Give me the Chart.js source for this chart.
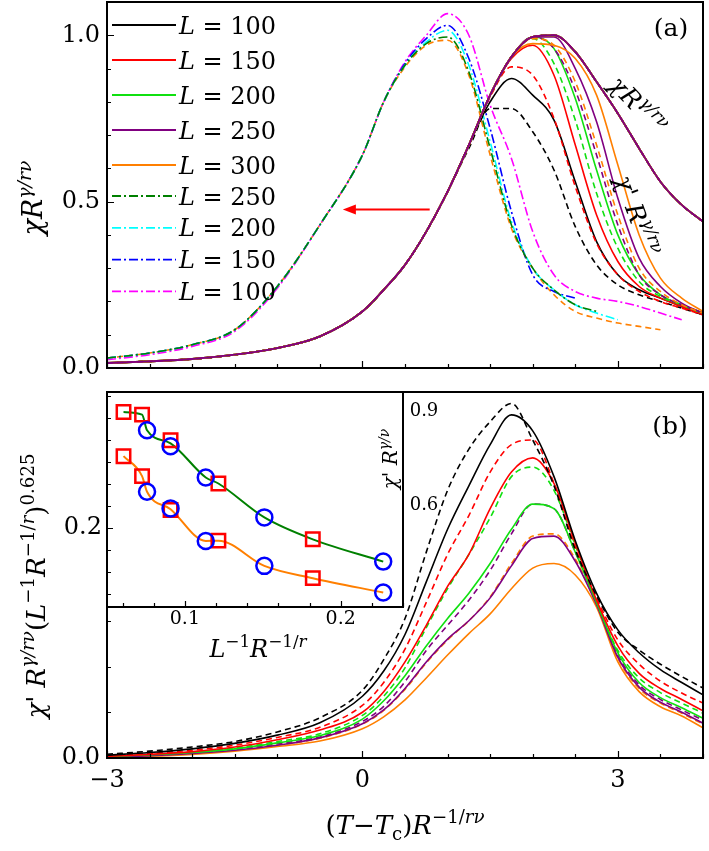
<!DOCTYPE html>
<html><head><meta charset="utf-8">
<script src="https://cdn.jsdelivr.net/npm/chart.js@4.4.1/dist/chart.umd.min.js"></script>
<style>
html,body{margin:0;padding:0;background:#fff;}
#wrap{position:relative;width:709px;height:851px;overflow:hidden;background:#fff;}
canvas{position:absolute;}
</style></head><body>
<div id="wrap">
<canvas id="ca" width="709" height="380" style="left:0;top:0"></canvas>
<canvas id="cb" width="709" height="479" style="left:0;top:372px"></canvas>
<canvas id="cc" width="460" height="300" style="left:0;top:372px"></canvas>
</div>
<script>
// ---------------- DATA ----------------
const xGrid = [-3,-2.5,-2,-1.5,-1,-0.5,0,0.25,0.5,0.75,1,1.25,1.5,1.75,2,2.25,2.5,2.75,3,3.25,3.5,3.75,4];
const sizesL = [100,150,200,250,300];

// panel (a): chi R^{gamma/r nu} (all sizes collapse)
const chiCollapse = [0.015,0.02,0.027,0.04,0.06,0.095,0.17,0.235,0.31,0.41,0.53,0.67,0.82,0.935,0.995,1.0,0.95,0.86,0.765,0.66,0.56,0.49,0.44];
// panel (a): chi' R^{gamma/r nu}, solid and dashed sets
const chiPA_L100  = [0.015,0.02,0.027,0.04,0.06,0.095,0.17,0.235,0.31,0.41,0.53,0.67,0.80,0.87,0.82,0.745,0.56,0.38,0.28,0.235,0.21,0.185,0.16];
const chiPA_L100d = [0.015,0.02,0.027,0.04,0.06,0.095,0.17,0.235,0.31,0.41,0.53,0.66,0.78,0.78,0.71,0.595,0.425,0.31,0.25,0.22,0.2,0.18,0.16];
const chiPA_L150  = [0.015,0.02,0.027,0.04,0.06,0.095,0.17,0.235,0.31,0.41,0.53,0.67,0.82,0.93,0.97,0.88,0.67,0.46,0.32,0.245,0.21,0.185,0.16];
const chiPA_L150d = [0.015,0.02,0.027,0.04,0.06,0.095,0.17,0.235,0.31,0.41,0.53,0.67,0.815,0.905,0.88,0.75,0.545,0.375,0.28,0.23,0.2,0.18,0.16];
const chiPA_L200  = [0.015,0.02,0.027,0.04,0.06,0.095,0.17,0.235,0.31,0.41,0.53,0.67,0.82,0.935,0.995,0.96,0.81,0.595,0.40,0.28,0.22,0.19,0.165];
const chiPA_L200d = [0.015,0.02,0.027,0.04,0.06,0.095,0.17,0.235,0.31,0.41,0.53,0.67,0.82,0.935,0.99,0.915,0.745,0.525,0.36,0.26,0.215,0.19,0.165];
const chiPA_L250  = [0.015,0.02,0.027,0.04,0.06,0.095,0.17,0.235,0.31,0.41,0.53,0.67,0.82,0.935,0.995,0.995,0.90,0.74,0.51,0.33,0.245,0.195,0.165];
const chiPA_L250d = [0.015,0.02,0.027,0.04,0.06,0.095,0.17,0.235,0.31,0.41,0.53,0.67,0.82,0.935,0.995,0.96,0.835,0.64,0.43,0.28,0.22,0.19,0.165];
const chiPA_L300  = [0.015,0.02,0.027,0.04,0.06,0.095,0.17,0.235,0.31,0.41,0.53,0.67,0.82,0.935,0.975,0.97,0.93,0.82,0.61,0.40,0.27,0.21,0.17];
const chiPA_L300d = [0.015,0.02,0.027,0.04,0.06,0.095,0.17,0.235,0.31,0.41,0.53,0.67,0.82,0.935,0.99,0.97,0.86,0.67,0.46,0.30,0.23,0.19,0.165];
// panel (a): shifted (dash-dot) curves
const shiftL250 = [0.03,0.045,0.07,0.115,0.245,0.43,0.64,0.80,0.91,0.975,0.995,0.89,0.66,0.43,0.30,0.235,0.19,0.17,null,null,null,null,null];
const shiftL200 = [0.03,0.045,0.07,0.115,0.245,0.43,0.64,0.80,0.91,0.98,1.015,0.91,0.68,0.44,0.30,0.235,0.19,0.165,0.145,null,null,null,null];
const shiftL150 = [0.03,0.045,0.07,0.115,0.245,0.43,0.64,0.80,0.915,0.99,1.03,0.93,0.72,0.47,0.28,0.23,0.21,null,null,null,null,null,null];
const shiftL100 = [0.025,0.04,0.065,0.11,0.24,0.43,0.64,0.80,0.92,1.0,1.065,1.0,0.79,0.63,0.41,0.28,0.23,0.21,0.20,0.185,0.165,0.145,null];
const shiftL300 = [0.03,0.045,0.07,0.115,0.245,0.43,0.64,0.80,0.905,0.97,0.985,0.88,0.64,0.42,0.30,0.22,0.17,0.15,0.135,0.125,0.115,null,null];

// panel (b): chi' R^{gamma/r nu} (L^-1 R^-1/r)^0.625
const chiPB_L100d = [0.008,0.015,0.024,0.036,0.057,0.088,0.148,0.215,0.305,0.45,0.585,0.675,0.735,0.775,0.695,0.595,0.455,0.355,0.275,0.236,0.205,0.178,0.153];
const chiPB_L100  = [0.006,0.012,0.02,0.032,0.05,0.077,0.135,0.19,0.27,0.385,0.50,0.595,0.685,0.75,0.715,0.615,0.475,0.36,0.28,0.23,0.193,0.165,0.138];
const chiPB_L150d = [0.005,0.01,0.017,0.028,0.045,0.067,0.115,0.165,0.238,0.34,0.445,0.53,0.625,0.685,0.695,0.60,0.46,0.35,0.258,0.205,0.168,0.142,0.12];
const chiPB_L150  = [0.004,0.008,0.014,0.024,0.04,0.061,0.1,0.145,0.21,0.29,0.375,0.445,0.545,0.625,0.656,0.60,0.47,0.345,0.245,0.185,0.152,0.128,0.103];
const chiPB_L200d = [0.004,0.008,0.013,0.022,0.036,0.053,0.093,0.135,0.197,0.285,0.37,0.445,0.525,0.615,0.636,0.585,0.465,0.34,0.235,0.175,0.143,0.12,0.098];
const chiPB_L200  = [0.003,0.007,0.012,0.02,0.033,0.049,0.085,0.125,0.18,0.245,0.305,0.36,0.425,0.50,0.555,0.545,0.45,0.34,0.23,0.165,0.132,0.11,0.087];
const chiPB_L250d = [0.003,0.006,0.011,0.019,0.031,0.046,0.08,0.113,0.167,0.235,0.29,0.345,0.41,0.49,0.555,0.545,0.45,0.34,0.225,0.16,0.128,0.105,0.083];
const chiPB_L250  = [0.002,0.005,0.01,0.017,0.028,0.044,0.075,0.105,0.152,0.21,0.26,0.30,0.35,0.42,0.48,0.485,0.43,0.335,0.22,0.155,0.122,0.1,0.076];
const chiPB_L300d = [0.002,0.005,0.01,0.017,0.028,0.043,0.074,0.104,0.15,0.208,0.258,0.30,0.352,0.425,0.485,0.49,0.435,0.335,0.218,0.152,0.12,0.098,0.074];
const chiPB_L300  = [0.002,0.004,0.008,0.015,0.025,0.037,0.064,0.09,0.127,0.175,0.225,0.272,0.315,0.37,0.415,0.425,0.40,0.33,0.21,0.145,0.112,0.092,0.066];

// inset: x = L^-1 R^-1/r
const insetSqX   = [0.0606,0.0725,0.0908,0.1215,0.1821];
const insetSqTop = [0.3057,0.3034,0.280,0.2406,0.1897];
const insetSqBot = [0.2655,0.2473,0.2164,0.1885,0.1543];
const insetCirX   = [0.0757,0.0908,0.1134,0.151,0.2273];
const insetCirTop = [0.2891,0.2745,0.2461,0.2097,0.1694];
const insetCirBot = [0.233,0.2179,0.1882,0.1655,0.1412];

// tick labels
const xTickLabels = {'-3':'−3','0':'0','3':'3'};
const yTickLabelsA = ['0.0','0.5','1.0'];
const yTickLabelsB = ['0.0'];
const insetXTickLabels = ['0.1','0.2'];
const insetYTickLabels = ['0.2'];
const insetRightLabels = ['0.9','0.6'];
// arrow (data coordinates of panel a)
const arrowFromX = 0.79, arrowToX = -0.23, arrowY = 0.476;

// ---------------- HELPERS ----------------
const SERIF = '"DejaVu Serif", "Liberation Serif", serif';
const C = {black:'#000000', red:'#ff0000', green:'#10e010', purple:'#800080', orange:'#ff7f00',
           dgreen:'#008000', cyan:'#00ffff', blue:'#0000ff', magenta:'#ff00ff'};
const DASH = [6,4], DASHDOT = [9,3,2,3];
function fnt(p,size){ const s = p.lv ? size*0.7 : size; return (p.it?'italic ':'') + s.toFixed(1)+'px '+SERIF; }
function richWidth(ctx,parts,size){ let w=0; for(const p of parts){ ctx.font=fnt(p,size); w+=ctx.measureText(p.t).width; } return w; }
function drawRich(ctx,parts,x,y,size,align,angle,vmid){
  ctx.save(); ctx.translate(x,y); if(angle) ctx.rotate(angle);
  ctx.fillStyle='#000'; ctx.textBaseline='alphabetic'; ctx.textAlign='left';
  const w = richWidth(ctx,parts,size);
  let cx = align==='center' ? -w/2 : (align==='right' ? -w : 0);
  const base = vmid ? size*0.3 : 0;
  for(const p of parts){
    ctx.font=fnt(p,size);
    const dy = p.lv===1 ? -size*0.42 : (p.lv===-1 ? size*0.22 : 0);
    ctx.fillText(p.t,cx,base+dy); cx+=ctx.measureText(p.t).width;
  }
  ctx.restore();
}
function pts(xs,ys){ return ys.map((v,i)=>({x:xs[i],y:v})); }
function line(label,data,color,dash,width){
  return {label, data, showLine:true, borderColor:color, borderDash:dash||[], borderWidth:width||1.6,
          pointRadius:0, fill:false, cubicInterpolationMode:'monotone', spanGaps:false};
}
function tickVals(min,max,step){ const out=[]; const s=Math.ceil((min-1e-9)/step), e=Math.floor((max+1e-9)/step); for(let i=s;i<=e;i++) out.push(+(i*step).toFixed(6)); return out; }
function near(a,b){ return Math.abs(a-b)<1e-6; }
function decor(spec){
  return { id:'decor',
    beforeDraw(chart){ if(spec.fill){ const a=chart.chartArea; const c=chart.ctx; c.save(); c.fillStyle='#fff'; c.fillRect(a.left,a.top,a.right-a.left,a.bottom-a.top); c.restore(); } },
    afterDraw(chart){
      const ctx=chart.ctx, a=chart.chartArea, xs=chart.scales.x, ys=chart.scales.y;
      ctx.save(); ctx.strokeStyle='#000'; ctx.lineWidth=1.2; ctx.setLineDash([]);
      ctx.beginPath();
      for(const v of tickVals(xs.min,xs.max,spec.xStep)){
        const px=Math.round(xs.getPixelForValue(v))+0.5; const len = spec.xMajor.some(m=>near(m,v)) ? spec.majLen : spec.minLen;
        ctx.moveTo(px,a.bottom); ctx.lineTo(px,a.bottom-len);
      }
      for(const v of tickVals(ys.min,ys.max,spec.yStep)){
        const py=Math.round(ys.getPixelForValue(v))+0.5; const len = spec.yMajor.some(m=>near(m,v)) ? spec.majLen : spec.minLen;
        ctx.moveTo(a.left,py); ctx.lineTo(a.left+len,py);
      }
      ctx.stroke();
      ctx.lineWidth=2; ctx.strokeRect(a.left,a.top,a.right-a.left,a.bottom-a.top);
      ctx.restore();
      if(spec.extra) spec.extra(chart,ctx);
    }};
}
function baseOptions(o){
  return {
    responsive:false, animation:false, devicePixelRatio:1,
    layout:{padding:o.pad},
    plugins:{legend:{display:false}, tooltip:{enabled:false}},
    scales:{
      x:{type:'linear', min:o.xmin, max:o.xmax, grid:{display:false, drawTicks:false}, border:{display:false},
         ticks:{display:o.xTicks, stepSize:o.xStep, autoSkip:false, maxRotation:0, minRotation:0, padding:o.xPad||6,
                color:'#000', font:{family:SERIF, size:o.xFont||24}, callback:o.xCb},
         afterFit:(s)=>{ s.height=o.xH; s.paddingLeft=0; s.paddingRight=0; }},
      y:{type:'linear', min:o.ymin, max:o.ymax, grid:{display:false, drawTicks:false}, border:{display:false},
         ticks:{display:true, stepSize:o.yStep, autoSkip:false, padding:o.yPad||7,
                color:'#000', font:{family:SERIF, size:o.yFont||24}, callback:o.yCb},
         afterFit:(s)=>{ s.width=o.yW; s.paddingTop=0; s.paddingBottom=0; }}
    }
  };
}
const mainXCb = (v)=>{ const k=String(Math.round(v*2)/2); return xTickLabels[k]!==undefined ? xTickLabels[k] : ''; };

// ---------------- PANEL (a) ----------------
const colorsL = {100:C.black,150:C.red,200:C.green,250:C.purple,300:C.orange};
const chiPA = {100:[chiPA_L100,chiPA_L100d],150:[chiPA_L150,chiPA_L150d],200:[chiPA_L200,chiPA_L200d],250:[chiPA_L250,chiPA_L250d],300:[chiPA_L300,chiPA_L300d]};
const dsA = [];
[250,300,200,150,100].forEach(L=>{
  dsA.push(line('chi L='+L, pts(xGrid,chiCollapse), colorsL[L], null, 1.8));
  dsA.push(line('chi L='+L+' dashed', pts(xGrid,chiCollapse), colorsL[L], DASH, 1.6));
});
[300,250,200,150,100].forEach(L=>{
  dsA.push(line("chi' L="+L, pts(xGrid,chiPA[L][0]), colorsL[L], null, 1.6));
  dsA.push(line("chi' L="+L+' dashed', pts(xGrid,chiPA[L][1]), colorsL[L], DASH, 1.6));
});
dsA.push(line('shift L=250', pts(xGrid,shiftL250), C.dgreen, DASHDOT, 1.6));
dsA.push(line('shift L=200', pts(xGrid,shiftL200), C.cyan, DASHDOT, 1.6));
dsA.push(line('shift L=150', pts(xGrid,shiftL150), C.blue, DASHDOT, 1.6));
dsA.push(line('shift L=100', pts(xGrid,shiftL100), C.magenta, DASHDOT, 1.6));
dsA.push(line('shift L=300', pts(xGrid,shiftL300), C.orange, DASH, 1.6));

const legendItems = [
  {L:100,c:C.black,d:[]},{L:150,c:C.red,d:[]},{L:200,c:C.green,d:[]},{L:250,c:C.purple,d:[]},{L:300,c:C.orange,d:[]},
  {L:250,c:C.dgreen,d:DASHDOT},{L:200,c:C.cyan,d:DASHDOT},{L:150,c:C.blue,d:DASHDOT},{L:100,c:C.magenta,d:DASHDOT}
];
function extraA(chart,ctx){
  legendItems.forEach((it,i)=>{
    const y = i<5 ? 25+i*35 : 196+(i-5)*31.8;
    ctx.save(); ctx.strokeStyle=it.c; ctx.lineWidth=1.8; ctx.setLineDash(it.d);
    ctx.beginPath(); ctx.moveTo(112,y); ctx.lineTo(176,y); ctx.stroke(); ctx.restore();
    drawRich(ctx,[{t:'L',it:1},{t:' = '+it.L}],179,y+8.5,24,'left');
  });
  ctx.save(); ctx.font='25px '+SERIF; ctx.fillStyle='#000'; ctx.textAlign='center'; ctx.textBaseline='middle'; ctx.fillText('(a)',671,29); ctx.restore();
  drawRich(ctx,[{t:'χ',it:1},{t:'R',it:1},{t:'γ/rν',it:1,lv:1}],637,106,25,'center',0.82,true);
  drawRich(ctx,[{t:'χ',it:1},{t:"' "},{t:'R',it:1},{t:'γ/rν',it:1,lv:1}],636,216,25,'center',1.22,true);
  drawRich(ctx,[{t:'χ',it:1},{t:'R',it:1},{t:'γ/rν',it:1,lv:1}],42,198,27,'center',-Math.PI/2);
  const xs=chart.scales.x, ys=chart.scales.y;
  const x1=xs.getPixelForValue(arrowFromX), x2=xs.getPixelForValue(arrowToX), y=ys.getPixelForValue(arrowY);
  ctx.save(); ctx.strokeStyle=C.red; ctx.fillStyle=C.red; ctx.lineWidth=2; ctx.setLineDash([]);
  ctx.beginPath(); ctx.moveTo(x1,y); ctx.lineTo(x2+10,y); ctx.stroke();
  ctx.beginPath(); ctx.moveTo(x2,y); ctx.lineTo(x2+13,y-5); ctx.lineTo(x2+13,y+5); ctx.closePath(); ctx.fill();
  ctx.restore();
}
new Chart(document.getElementById('ca'),{
  type:'line', data:{datasets:dsA},
  options:baseOptions({pad:{left:0,right:6,top:2,bottom:0}, xmin:-3,xmax:4,xStep:0.5,xTicks:false,xH:12,xCb:mainXCb,
    ymin:0,ymax:1.1,yStep:0.1,yW:107,yCb:(v)=>{const s=(Math.round(v*10)/10).toFixed(1); return yTickLabelsA.includes(s)?s:'';}}),
  plugins:[decor({xStep:0.5,xMajor:[-3,0,3],yStep:0.1,yMajor:[0,0.5,1.0],majLen:7,minLen:4,extra:extraA})]
});

// ---------------- PANEL (b) ----------------
const chiPB = {100:[chiPB_L100,chiPB_L100d],150:[chiPB_L150,chiPB_L150d],200:[chiPB_L200,chiPB_L200d],250:[chiPB_L250,chiPB_L250d],300:[chiPB_L300,chiPB_L300d]};
const dsB = [];
sizesL.forEach(L=>{
  dsB.push(line("L="+L, pts(xGrid,chiPB[L][0]), colorsL[L], null, 1.6));
  dsB.push(line("L="+L+' dashed', pts(xGrid,chiPB[L][1]), colorsL[L], DASH, 1.6));
});
function extraB(chart,ctx){
  ctx.save(); ctx.font='25px '+SERIF; ctx.fillStyle='#000'; ctx.textAlign='center'; ctx.textBaseline='middle'; ctx.fillText('(b)',670,55); ctx.restore();
  drawRich(ctx,[{t:'χ',it:1},{t:"' "},{t:'R',it:1},{t:'γ/rν',it:1,lv:1},{t:'('},{t:'L',it:1},{t:'−1',lv:1},{t:'R',it:1},{t:'−1/',lv:1},{t:'r',it:1,lv:1},{t:')'},{t:'0.625',lv:1}],
    45,214,26,'center',-Math.PI/2);
  drawRich(ctx,[{t:'('},{t:'T',it:1},{t:'−'},{t:'T',it:1},{t:'c',lv:-1},{t:')'},{t:'R',it:1},{t:'−1/',lv:1},{t:'rν',it:1,lv:1}],405,462,26,'center');
}
new Chart(document.getElementById('cb'),{
  type:'line', data:{datasets:dsB},
  options:baseOptions({pad:{left:0,right:6,top:20,bottom:0}, xmin:-3,xmax:4,xStep:0.5,xTicks:true,xH:93,xPad:8,xCb:mainXCb,
    ymin:0,ymax:0.8,yStep:0.1,yW:107,yCb:(v)=>{const s=(Math.round(v*10)/10).toFixed(1); return yTickLabelsB.includes(s)?s:'';}}),
  plugins:[decor({xStep:0.5,xMajor:[-3,0,3],yStep:0.1,yMajor:[0],majLen:7,minLen:4,extra:extraB})]
});

// ---------------- INSET ----------------
function mergeLine(xa,ya,xb,yb){
  const m=new Map();
  xa.forEach((x,i)=>{ m.set(x,[ya[i]]); });
  xb.forEach((x,i)=>{ if(m.has(x)) m.get(x).push(yb[i]); else m.set(x,[yb[i]]); });
  return [...m.entries()].sort((p,q)=>p[0]-q[0]).map(([x,v])=>({x, y:v.reduce((s,t)=>s+t,0)/v.length}));
}
const dsC = [
  {label:'circles top', data:pts(insetCirX,insetCirTop), showLine:false, pointStyle:'circle', pointRadius:8, borderColor:C.blue, borderWidth:2.5, backgroundColor:'rgba(0,0,0,0)'},
  {label:'circles bottom', data:pts(insetCirX,insetCirBot), showLine:false, pointStyle:'circle', pointRadius:8, borderColor:C.blue, borderWidth:2.5, backgroundColor:'rgba(0,0,0,0)'},
  {label:'squares top', data:pts(insetSqX,insetSqTop), showLine:false, pointStyle:'rect', pointRadius:9.5, borderColor:C.red, borderWidth:2.5, backgroundColor:'rgba(0,0,0,0)'},
  {label:'squares bottom', data:pts(insetSqX,insetSqBot), showLine:false, pointStyle:'rect', pointRadius:9.5, borderColor:C.red, borderWidth:2.5, backgroundColor:'rgba(0,0,0,0)'},
  line('top line', mergeLine(insetSqX,insetSqTop,insetCirX,insetCirTop), C.dgreen, null, 2),
  line('bottom line', mergeLine(insetSqX,insetSqBot,insetCirX,insetCirBot), C.orange, null, 2)
];
function extraC(chart,ctx){
  drawRich(ctx,[{t:'L',it:1},{t:'−1',lv:1},{t:'R',it:1},{t:'−1/',lv:1},{t:'r',it:1,lv:1}],258,285,24,'center');
  ctx.save(); ctx.font='18px '+SERIF; ctx.fillStyle='#000'; ctx.textAlign='center'; ctx.textBaseline='middle';
  ctx.fillText(insetRightLabels[0],424,39); ctx.fillText(insetRightLabels[1],424,133); ctx.restore();
  drawRich(ctx,[{t:'χ',it:1},{t:"' "},{t:'R',it:1},{t:'γ/ν',it:1,lv:1}],397,87,20,'center',-Math.PI/2);
}
new Chart(document.getElementById('cc'),{
  type:'scatter', data:{datasets:dsC},
  options:baseOptions({pad:{left:0,right:57,top:20,bottom:0}, xmin:0.05,xmax:0.24,xStep:0.02,xTicks:true,xH:65,xPad:1,xFont:19,
    xCb:(v)=>{ const s=(Math.round(v*100)/100).toFixed(1); return (insetXTickLabels.includes(s) && Math.abs(v-parseFloat(s))<1e-6)?s:''; },
    ymin:0.128,ymax:0.324,yStep:0.02,yW:107,yPad:5,
    yCb:(v)=>{ const s=(Math.round(v*100)/100).toFixed(1); return (insetYTickLabels.includes(s) && Math.abs(v-parseFloat(s))<1e-6)?s:''; }}),
  plugins:[decor({fill:true,xStep:0.02,xMajor:[0.1,0.2],yStep:0.02,yMajor:[0.2],majLen:6,minLen:4,extra:extraC})]
});
</script>
</body></html>
